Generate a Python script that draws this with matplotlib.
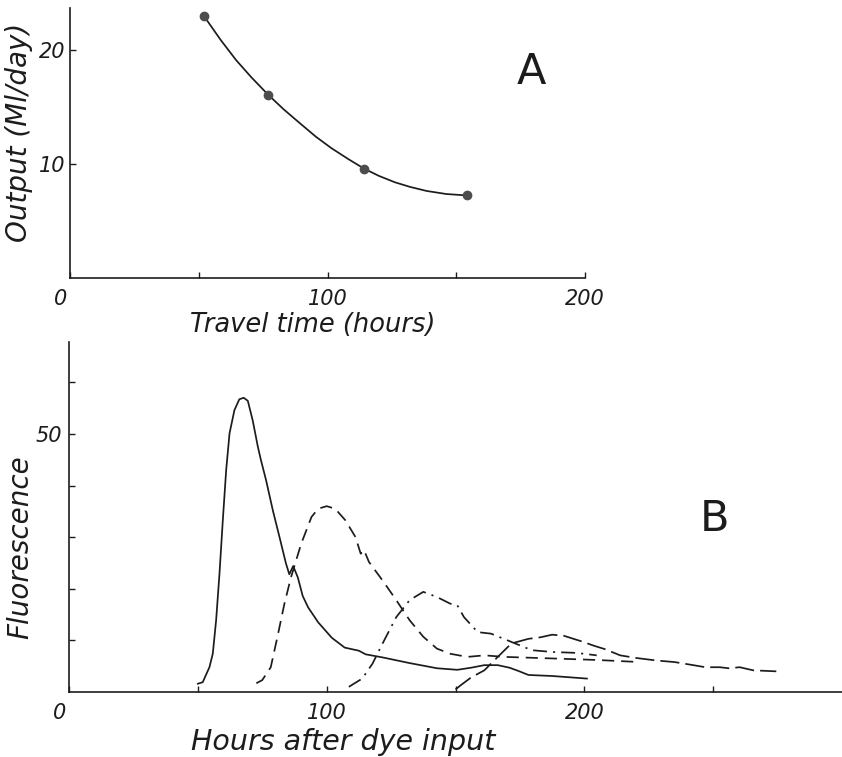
import numpy as np
import matplotlib
matplotlib.use("Agg")
import matplotlib.pyplot as plt
import matplotlib.transforms as mtransforms

INK = "#1c1c1c"
DOT = "#4d4d4d"

# Panel A: output vs travel time (measured points + the hand-drawn curve)
travel_pts = [52, 77, 114, 154]
output_pts = [23.0, 16.1, 9.6, 7.25]
curve_travel = [52, 58.5, 64.6, 70.5, 76.9, 83, 89.2, 95.5, 101.5, 108, 114.2,
                120, 126.2, 132, 138.5, 146.2, 154]
curve_output = [23.0, 20.9, 19.1, 17.6, 16.1, 14.8, 13.6, 12.4, 11.4, 10.45,
                9.6, 8.96, 8.4, 8.0, 7.64, 7.37, 7.25]

# Panel B: dye traces (hours after input, fluorescence)
solid_h = [50, 51.9, 54.5, 55.8, 57.1, 58.4, 59.7, 61, 62.3, 64.2, 66.1, 67.8,
           69.4, 71.3, 73.3, 74.5, 76.5, 79.1, 81.7, 84.2, 85.5, 87, 88.8,
           90.7, 92.8, 96.7, 102, 107, 112.5, 115.1, 121.7, 132.2, 142.8,
           150.7, 156, 161.2, 166.4, 171, 174.3, 178.3, 187.5, 201]
solid_f = [1.6, 1.9, 4.8, 7.4, 13.9, 22.9, 33.3, 43, 50.1, 54.6, 56.7, 57.0,
           56.4, 52.6, 47.5, 44.9, 41, 35.2, 30, 24.9, 22.8, 24.4, 22.2, 18.6,
           16.4, 13.5, 10.5, 8.6, 8.0, 7.3, 6.7, 5.6, 4.6, 4.3, 4.7, 5.2, 5.2,
           4.7, 4.1, 3.3, 3.1, 2.6]

dash_h = [72.7, 75, 78.3, 80.9, 83.6, 86.2, 90.1, 94.1, 96.7, 100, 103.3,
          107.2, 111.2, 113.2, 114.5, 116.4, 121.7, 127, 132.2, 137.5, 142.8,
          148, 154.6, 161.2, 169.1, 187.5, 205, 221.6]
dash_f = [1.7, 2.3, 4.8, 10.7, 17.1, 22.3, 28.7, 33.9, 35.5, 36.0, 35.5, 33.3,
          30.0, 26.8, 27.5, 25.2, 21.6, 17.8, 13.9, 10.7, 8.4, 7.4, 6.8, 7.1,
          6.8, 6.5, 6.2, 5.8]

dashdot_h = [108.6, 113.8, 117.8, 121.7, 127, 132.2, 137.5, 142.8, 148,
             150.7, 153.3, 158.6, 163.8, 171.7, 179.6, 187.5, 195.8, 200,
             204.8]
dashdot_f = [1.0, 2.6, 5.5, 9.4, 14.5, 17.8, 19.4, 18.4, 17.1, 16.8, 14.5,
             11.6, 11.3, 9.7, 8.1, 7.75, 7.6, 7.4, 7.1]

longdash_h = [150, 152, 156, 161.2, 166.4, 171.7, 178.3, 183, 187.5, 192,
              195.8, 199, 203.5, 208, 213.9, 220, 228, 235, 242.3, 247, 252.6,
              256, 260.3, 265.5, 274.5]
longdash_f = [0.5, 1.3, 2.8, 4.2, 6.8, 9.4, 10.3, 10.6, 11.1, 10.9, 10.3, 9.8,
              9.0, 8.3, 7.1, 6.6, 6.1, 5.8, 5.2, 4.8, 4.8, 4.6, 4.8, 4.2, 4.0]

plt.rcParams["font.family"] = ["DejaVu Sans"]
plt.rcParams["text.color"] = INK

W, H = 842, 757
fig = plt.figure(figsize=(W / 100, H / 100), dpi=100)


def fx(px):
    return px / W


def fy(py):
    return 1 - py / H


def style_axes(ax):
    for side in ("top", "right"):
        ax.spines[side].set_visible(False)
    for side in ("left", "bottom"):
        ax.spines[side].set_color(INK)
        ax.spines[side].set_linewidth(1.2)
    ax.tick_params(direction="in", length=4, width=1.0, colors=INK,
                   labelsize=15, pad=8)
    for lab in ax.get_xticklabels() + ax.get_yticklabels():
        lab.set_fontstyle("italic")
    # the "0" at the origin sits a little left of the corner
    zero = ax.get_xticklabels()[0]
    zero.set_transform(zero.get_transform() +
                       mtransforms.ScaledTranslation(-0.09, 0,
                                                     fig.dpi_scale_trans))
    ax.patch.set_alpha(0)


LW = 1.25

# ---- panel A ----
axA = fig.add_axes([fx(70), fy(278), fx(585) - fx(70), fy(8) - fy(278)])
axA.plot(curve_travel, curve_output, color=INK, lw=LW,
         solid_joinstyle="round")
axA.plot(travel_pts, output_pts, "o", color=DOT, ms=6, zorder=3)
axA.set_xlim(0, 200)
axA.set_ylim(0, 23.7)
axA.set_xticks([0, 50, 100, 150, 200])
axA.set_xticklabels(["0", "", "100", "", "200"])
axA.set_yticks([10, 20])
axA.set_yticklabels(["10", "20"])
style_axes(axA)
axA.tick_params(axis="y", pad=3)
axA.text(0.895, 0.763, "A", transform=axA.transAxes,
         fontsize=31, ha="center", va="center", color=INK)

fig.text(fx(19), fy(132), "Output (Ml/day)", rotation=90, ha="center",
         va="center", fontsize=20, fontstyle="italic")
fig.text(fx(313), fy(325), "Travel time (hours)", ha="center", va="center",
         fontsize=18.5, fontstyle="italic")

# ---- panel B ----
axB = fig.add_axes([fx(69), fy(692), 1 - fx(69), fy(342) - fy(692)])
axB.plot(solid_h, solid_f, color=INK, lw=LW, solid_joinstyle="round")
axB.plot(dash_h, dash_f, color=INK, lw=LW, dashes=(7, 4))
axB.plot(dashdot_h, dashdot_f, color=INK, lw=LW, dashes=(8, 3.5, 1.2, 3.5))
axB.plot(longdash_h, longdash_f, color=INK, lw=LW, dashes=(11, 3.5))
axB.set_xlim(0, 300)
axB.set_ylim(0, 67.8)
axB.set_xticks([0, 50, 100, 150, 200, 250])
axB.set_xticklabels(["0", "", "100", "", "200", ""])
axB.set_yticks([10, 20, 30, 40, 50, 60])
axB.set_yticklabels(["", "", "", "", "50", ""])
style_axes(axB)
axB.tick_params(axis="y", pad=5)
axB.text((715 - 69) / (W - 69), (692 - 519) / 350, "B",
         transform=axB.transAxes, fontsize=31, ha="center", va="center",
         color=INK)

fig.text(fx(20), fy(547), "Fluorescence", rotation=90, ha="center",
         va="center", fontsize=20, fontstyle="italic")
fig.text(fx(343), fy(742), "Hours after dye input", ha="center", va="center",
         fontsize=20.5, fontstyle="italic")

fig.savefig("out.png", dpi=100)
